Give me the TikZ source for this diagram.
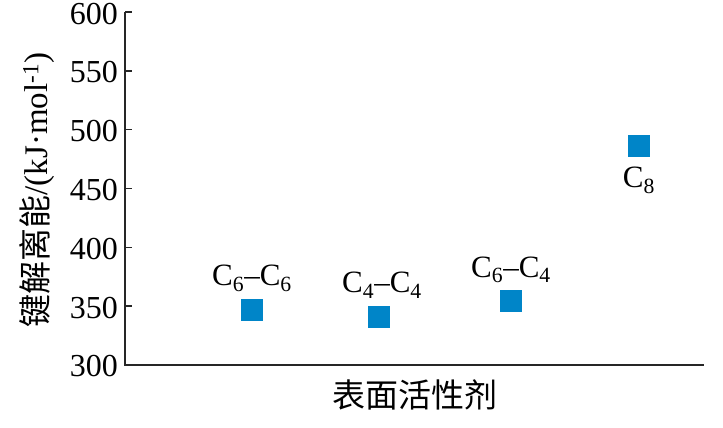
\documentclass[tikz,border=0pt]{standalone}
\usepackage{fontspec}
\setmainfont{Liberation Serif}
\newfontfamily\cjk{Noto Sans CJK SC}
\usetikzlibrary{positioning}
\definecolor{ptblue}{RGB}{0,133,200}
\tikzstyle{axis} = [line width=1.6pt, color=black!85]
\tikzstyle{tick} = [line width=1.4pt, color=black!85]
\tikzstyle{ticklabel} = [anchor=east, inner sep=0pt, yshift=-1.5pt, font=\fontsize{32}{34}\selectfont]
\tikzstyle{point} = [rectangle, minimum size=22pt, inner sep=0pt, fill=ptblue]
\tikzstyle{tag} = [inner sep=1pt, font=\fontsize{31}{33}\selectfont]
\begin{document}
\begin{tikzpicture}[x=1pt,y=1pt]
\useasboundingbox (0,0) rectangle (723,428);
\begin{scope}[shift={(125,63)}, y=1.176pt]
% Axes
\coordinate (origin) at (0,0);
\coordinate (ytop) at (0,300);
\coordinate (xend) at (579,0);
\draw[axis] (ytop) -- (origin) -- (xend);

% Ticks
\foreach \v in {300,350,...,600} {
  \draw[tick] (0,\v-300) -- ++(7pt,0);
  \node (t\v) [ticklabel] at (-7pt,\v-300) {\v};
}

% Points
\node (c66) [point] at (127,347-300) {};
\node (c44) [point] at (254,341-300) {};
\node (c64) [point] at (386,354-300) {};
\node (c8) [point] at (514,486-300) {};

% Labels
\node (l66) [tag, above=6pt of c66] {C\textsubscript{6}–C\textsubscript{6}};
\node (l44) [tag, above=6pt of c44, xshift=3pt] {C\textsubscript{4}–C\textsubscript{4}};
\node (l64) [tag, above=6pt of c64] {C\textsubscript{6}–C\textsubscript{4}};
\node (l8) [tag, below=8pt of c8] {C\textsubscript{8}};
\end{scope}

% Axis titles
\node (ylabel) [rotate=90, font=\fontsize{33}{35}\selectfont] at (37,238) {{\cjk 键解离能}/(kJ·mol\textsuperscript{-1})};
\node (xlabel) [font=\fontsize{33}{35}\selectfont\cjk] at (415,33) {表面活性剂};
\end{tikzpicture}
\end{document}
